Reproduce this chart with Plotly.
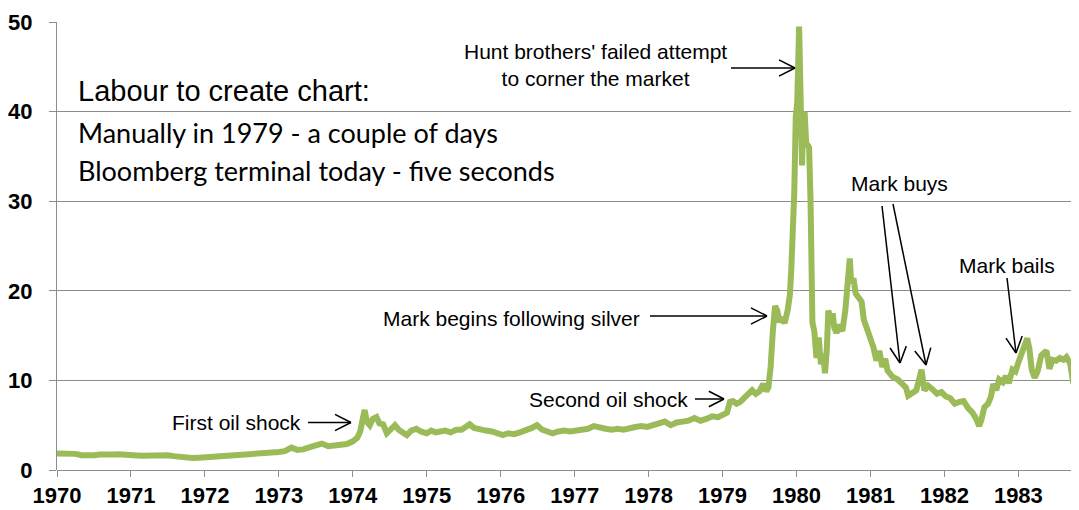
import plotly.graph_objects as go
import math

# ---- data: silver price (USD/oz), decimal year ----
years = [
 1970.00,1970.08,1970.17,1970.25,1970.33,1970.42,1970.50,1970.58,1970.67,1970.75,1970.83,1970.92,
 1971.00,1971.08,1971.17,1971.25,1971.33,1971.42,1971.50,1971.58,1971.67,1971.75,1971.83,1971.92,
 1972.00,1972.08,1972.17,1972.25,1972.33,1972.42,1972.50,1972.58,1972.67,1972.75,1972.83,1972.92,
 1973.00,1973.08,1973.17,1973.25,1973.33,1973.42,1973.50,1973.58,1973.67,1973.75,1973.83,1973.92,
 1974.00,1974.06,1974.10,1974.13,1974.16,1974.19,1974.23,1974.27,1974.32,1974.36,1974.41,1974.46,
 1974.51,1974.57,1974.62,1974.68,1974.73,1974.79,1974.86,1974.92,
 1975.00,1975.06,1975.12,1975.18,1975.25,1975.32,1975.40,1975.47,1975.53,1975.58,1975.64,1975.72,
 1975.80,1975.88,1975.96,
 1976.03,1976.10,1976.18,1976.26,1976.34,1976.42,1976.49,1976.56,1976.63,1976.70,1976.78,1976.86,1976.94,
 1977.02,1977.10,1977.18,1977.26,1977.34,1977.42,1977.50,1977.58,1977.66,1977.74,1977.82,1977.90,1977.98,
 1978.06,1978.14,1978.22,1978.30,1978.38,1978.46,1978.54,1978.62,1978.70,1978.78,1978.86,1978.94,
 1979.00,1979.06,1979.10,1979.14,1979.19,1979.24,1979.30,1979.35,1979.40,1979.45,1979.50,1979.55,
 1979.59,1979.62,1979.65,1979.68,1979.71,1979.74,1979.77,1979.80,1979.84,1979.88,1979.91,1979.93,
 1979.95,1979.97,1979.99,
 1980.01,1980.035,1980.05,1980.065,1980.075,1980.09,1980.11,1980.13,1980.17,1980.19,1980.20,1980.215,
 1980.24,1980.27,1980.30,1980.33,1980.36,1980.385,1980.41,1980.43,1980.46,1980.49,1980.51,1980.54,
 1980.58,1980.62,1980.66,1980.69,1980.72,1980.74,1980.77,1980.80,1980.84,1980.88,1980.91,1980.95,
 1981.00,1981.04,1981.08,1981.12,1981.16,1981.20,1981.23,1981.30,1981.37,1981.43,1981.48,1981.51,
 1981.56,1981.62,1981.67,1981.69,1981.73,1981.78,1981.84,1981.90,1981.96,
 1982.02,1982.08,1982.14,1982.20,1982.26,1982.32,1982.38,1982.43,1982.47,1982.50,1982.54,1982.59,
 1982.63,1982.66,1982.70,1982.74,1982.79,1982.83,1982.87,1982.92,1982.96,
 1983.00,1983.05,1983.09,1983.12,1983.15,1983.18,1983.22,1983.26,1983.31,1983.35,1983.38,1983.42,
 1983.46,1983.51,1983.56,1983.61,1983.65,1983.70,1983.74,1983.78,1983.82,
]
prices = [
 1.85,1.85,1.87,1.80,1.65,1.60,1.65,1.72,1.80,1.72,1.75,1.65,
 1.60,1.62,1.58,1.62,1.68,1.62,1.65,1.55,1.45,1.38,1.33,1.38,
 1.42,1.48,1.52,1.50,1.55,1.55,1.60,1.70,1.80,1.78,1.88,1.95,
 2.00,2.10,2.50,2.25,2.30,2.55,2.75,2.95,2.65,2.75,2.95,2.90,
 3.20,3.60,4.30,5.80,6.70,5.40,5.00,5.70,5.90,5.20,5.10,4.10,
 4.60,5.00,4.50,4.10,3.90,4.40,4.60,4.30,
 4.10,4.40,4.20,4.30,4.40,4.20,4.50,4.50,4.80,5.10,4.70,4.50,
 4.40,4.30,4.10,
 3.90,4.10,4.00,4.20,4.40,4.70,5.00,4.50,4.30,4.10,4.30,4.40,4.30,
 4.40,4.50,4.60,4.90,4.70,4.60,4.50,4.60,4.50,4.70,4.80,4.90,4.80,
 5.00,5.20,5.40,5.00,5.30,5.40,5.50,5.80,5.50,5.70,6.00,5.90,
 6.10,6.40,7.60,7.70,7.40,7.60,8.10,8.40,8.90,8.50,8.80,9.60,
 8.80,9.20,11.50,15.50,18.30,17.80,16.50,17.00,16.40,17.80,19.50,22.50,
 26.50,31.00,39.50,
 41.00,49.50,42.00,39.50,34.00,38.50,40.00,36.50,36.00,30.00,24.00,16.50,
 15.50,12.50,14.80,11.80,13.00,10.80,13.50,17.80,16.80,17.50,15.90,15.30,
 16.20,15.50,17.80,21.50,23.60,20.80,21.40,19.70,19.20,18.80,16.80,15.90,
 14.80,13.70,12.20,13.30,11.50,12.40,11.10,10.40,10.10,9.70,9.20,8.30,
 8.60,8.90,10.50,11.20,8.90,9.40,9.00,8.50,8.70,
 8.20,8.00,7.40,7.60,7.70,6.90,6.40,5.70,4.90,5.60,7.00,7.40,
 8.20,9.60,8.90,10.10,9.80,10.50,9.70,11.20,11.00,
 12.00,13.00,14.10,14.70,13.50,11.20,10.30,11.00,12.80,13.20,13.30,11.30,
 12.30,12.20,12.50,12.30,12.60,11.90,9.80,9.40,8.40,
]
tick_years = list(range(1970, 1984))
y_ticks = [0, 10, 20, 30, 40, 50]

GREEN = "#9BBB59"
GRID = "#8C8C8C"
W, H = 1079, 510
OFF = 8  # page body margin offsets the figure
# desired plot area on screen: x 57..1079, y 22..470
L, R, T, B = 57 - OFF, OFF, 22 - OFF, H - (470 - OFF)

def px(x):  # screen x -> paper
    return (x - 57) / 1022

def py(y):  # screen y -> paper
    return (470 - y) / 448

fig = go.Figure()
fig.add_trace(go.Scatter(x=years, y=prices, mode="lines",
                         line=dict(color=GREEN, width=6), hoverinfo="skip"))

# ---- arrows (open V heads) ----
shapes = []
def arrow(x0, y0, x1, y1, head=18, ang=27):
    shapes.append(dict(type="line", xref="paper", yref="paper",
                       x0=px(x0), y0=py(y0), x1=px(x1), y1=py(y1),
                       line=dict(color="black", width=1.5)))
    th = math.atan2(y1 - y0, x1 - x0)
    for s in (-1, 1):
        a = th + math.pi + s * math.radians(ang)
        hx, hy = x1 + head * math.cos(a), y1 + head * math.sin(a)
        shapes.append(dict(type="line", xref="paper", yref="paper",
                           x0=px(hx), y0=py(hy), x1=px(x1), y1=py(y1),
                           line=dict(color="black", width=1.5)))

arrow(731, 68, 795, 68)
arrow(650, 316, 767, 316)
arrow(695, 399, 724, 399, head=17)
arrow(308, 422.5, 351, 422.5)
arrow(882, 206, 900, 363)
arrow(893, 204, 926, 365)
arrow(1007, 278, 1016, 353)

ann_font = dict(family="Liberation Sans, Arial", size=21, color="black")
anns = []
def label(text, x, y, xanchor="center", font=ann_font, align="center"):
    anns.append(dict(text=text, xref="paper", yref="paper", x=px(x), y=py(y),
                     xanchor=xanchor, yanchor="middle", showarrow=False,
                     font=font, align=align))

label("Hunt brothers' failed attempt<br>to corner the market", 595, 65)
label("Mark begins following silver", 381, 318, xanchor="left")
label("Second oil shock", 527, 399, xanchor="left")
label("First oil shock", 170, 422, xanchor="left")
label("Mark buys", 899, 183)
label("Mark bails", 1007, 265)
label("Labour to create chart:", 76, 91, xanchor="left",
      font=dict(family="Liberation Sans, Arial", size=29, color="black"))
label("Manually in 1979 - a couple of days", 76, 133, xanchor="left",
      font=dict(family="Lato", size=27, color="black"))
label("Bloomberg terminal today - five seconds", 76, 170, xanchor="left",
      font=dict(family="Lato", size=27, color="black"))

tickfont = dict(family="Liberation Sans, Arial", size=22, color="black", weight="bold")

fig.update_layout(
    width=W, height=H,
    margin=dict(l=L, r=R, t=T, b=B, pad=0, autoexpand=False),
    paper_bgcolor="white", plot_bgcolor="white",
    showlegend=False,
    shapes=shapes, annotations=anns,
    xaxis=dict(range=[1970, 1983.82], tickvals=tick_years,
               ticktext=[str(y) for y in tick_years],
               showgrid=False, zeroline=False, showline=False,
               ticks="outside", ticklen=6, tickcolor=GRID, tickwidth=1.3,
               tickfont=tickfont, automargin=False, fixedrange=True),
    yaxis=dict(range=[0, 50], tickvals=y_ticks,
               showgrid=True, gridcolor=GRID, gridwidth=1.3,
               zeroline=True, zerolinecolor=GRID, zerolinewidth=1.3,
               showline=True, linecolor=GRID, linewidth=1.3,
               ticks="outside", ticklen=7, tickcolor=GRID, tickwidth=1.3,
               ticklabelstandoff=12,
               tickfont=tickfont, automargin=False, fixedrange=True),
)

fig.write_html("out.html")
